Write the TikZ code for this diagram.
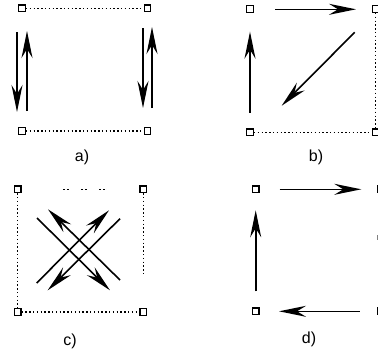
\documentclass[tikz,border=0pt]{standalone}
\usepackage{fontspec}
\setmainfont{Liberation Sans}
\usetikzlibrary{arrows.meta}
\tikzset{
  vtx/.style={draw, line width=1.3pt, minimum size=6.5pt, inner sep=0pt, fill=white},
  arr/.style={line width=1.6pt, -{Stealth[length=27pt,width=11pt,inset=9pt]}},
  dots/.style={line width=1.5pt, dash pattern=on 1.4pt off 2.4pt},
  lbl/.style={font=\fontsize{16}{18}\selectfont, inner sep=0pt}
}
\begin{document}
\begin{tikzpicture}[x=1pt,y=-1pt]
\useasboundingbox (0,0) rectangle (378,354);
% ---------- panel a ----------
\node[vtx] (a1) at (22,8.3) {};
\node[vtx] (a2) at (147.5,8.3) {};
\node[vtx] (a3) at (22,131) {};
\node[vtx] (a4) at (147.5,131) {};
\draw[dots] (a1) -- (a2);
\draw[dots] (a3) -- (a4);
\coordinate (a5) at (17,32);   \coordinate (a6) at (17,112);
\coordinate (a7) at (27,111);  \coordinate (a8) at (27,31);
\coordinate (a9) at (143,28);  \coordinate (a10) at (143,108);
\coordinate (a11) at (152,108);\coordinate (a12) at (152,27);
\draw[arr] (a5) -- (a6);
\draw[arr] (a7) -- (a8);
\draw[arr] (a9) -- (a10);
\draw[arr] (a11) -- (a12);
\node[lbl] (la) at (82,157) {a)};
% ---------- panel b ----------
\node[vtx] (b1) at (250,9) {};
\node[vtx] (b2) at (375.5,9) {};
\node[vtx] (b3) at (250,132.3) {};
\node[vtx] (b4) at (375.5,132.3) {};
\draw[dots] (b2) -- (b4);
\draw[dots] (b3) -- (b4);
\coordinate (b5) at (275,9.3);   \coordinate (b6) at (356,9.3);
\coordinate (b7) at (250,112.7); \coordinate (b8) at (250,31.7);
\coordinate (b9) at (354.7,32.3);\coordinate (b10) at (281.7,105.7);
\draw[arr] (b5) -- (b6);
\draw[arr] (b7) -- (b8);
\draw[arr] (b9) -- (b10);
\node[lbl] (lb) at (316,157) {b)};
% ---------- panel c ----------
\node[vtx] (c1) at (17.7,189.3) {};
\node[vtx] (c2) at (143.3,189.3) {};
\node[vtx] (c3) at (17.7,312) {};
\node[vtx] (c4) at (143.3,312) {};
\draw[dots] (c1) -- (c3);
\draw[dots] (c3) -- (c4);
\coordinate (c5) at (143.3,275);
\draw[dots] (c2) -- (c5);
\coordinate (c6) at (63,189.3);  \coordinate (c7) at (111,189.3);
\draw[line width=1pt, dash pattern=on 2pt off 2pt on 2pt off 12pt] (c6) -- (c7);
\coordinate (c8) at (37,218);    \coordinate (c9) at (110,290.3);
\coordinate (c10) at (120,280);  \coordinate (c11) at (48,209.3);
\coordinate (c12) at (36.7,283); \coordinate (c13) at (109,210.3);
\coordinate (c14) at (120,218.7);\coordinate (c15) at (47.7,290.3);
\draw[arr] (c8) -- (c9);
\draw[arr] (c10) -- (c11);
\draw[arr] (c12) -- (c13);
\draw[arr] (c14) -- (c15);
\node[lbl] (lc) at (70,341) {c)};
% ---------- panel d ----------
\node[vtx] (d1) at (255.7,189.3) {};
\node[vtx] (d2) at (255.7,311.3) {};
\node[vtx] (d3) at (381,189.3) {};
\node[vtx] (d4) at (381,311.3) {};
\coordinate (d5) at (377.5,235);\coordinate (d6) at (377.5,240);
\draw[line width=0.9pt, gray] (d5) -- (d6);
\coordinate (d7) at (279.7,189.3);  \coordinate (d8) at (361.3,189.3);
\coordinate (d9) at (255.7,291.3);  \coordinate (d10) at (255.7,210.3);
\coordinate (d11) at (359.7,311.3); \coordinate (d12) at (279,311.3);
\draw[arr] (d7) -- (d8);
\draw[arr] (d9) -- (d10);
\draw[arr] (d11) -- (d12);
\node[lbl] (ld) at (309,339) {d)};
\end{tikzpicture}
\end{document}
